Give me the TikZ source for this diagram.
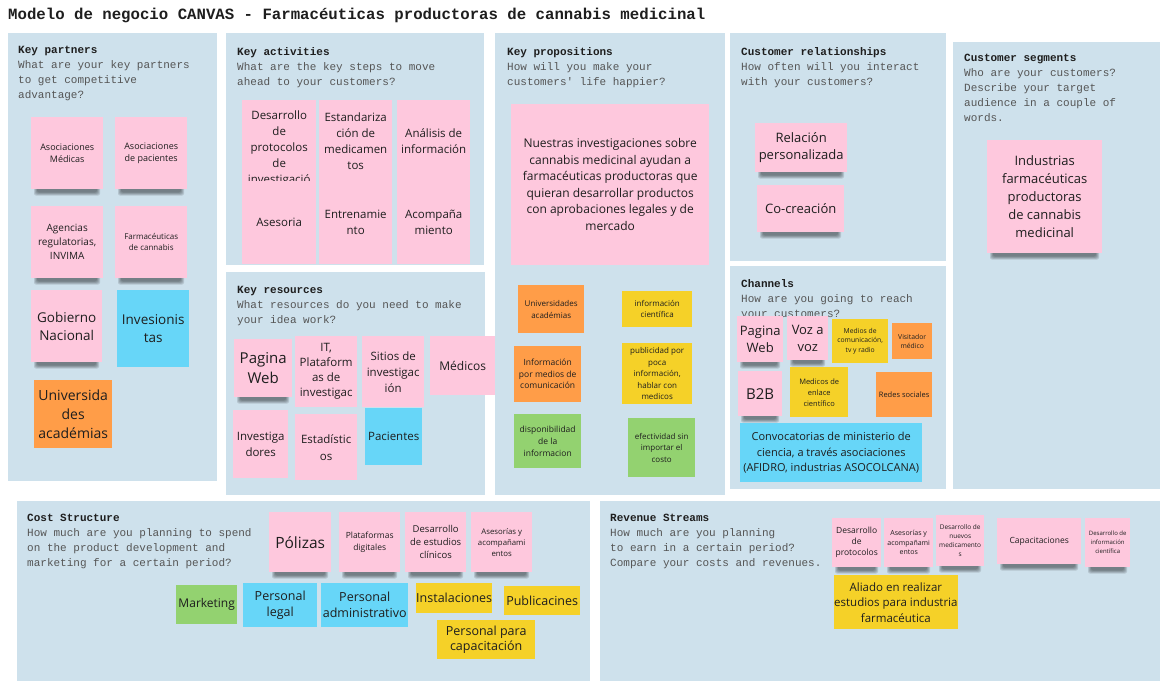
\documentclass[tikz,border=0pt]{standalone}
\usepackage{fontspec}
\setmainfont{Open Sans}
\setmonofont{Liberation Mono}
\usetikzlibrary{calc}

\definecolor{panelbg}{RGB}{206,225,236}
\definecolor{npink}{RGB}{254,200,221}
\definecolor{nblue}{RGB}{103,214,248}
\definecolor{norange}{RGB}{255,157,72}
\definecolor{nyellow}{RGB}{245,209,40}
\definecolor{ngreen}{RGB}{147,210,112}
\definecolor{ink}{RGB}{30,30,30}
\definecolor{qgray}{RGB}{85,85,85}

% font size with leading
\newcommand{\fz}[2]{\fontsize{#1}{#2}\selectfont}
% canvas panel: name, x1, y1, x2, y2
\newcommand{\cpanel}[5]{\node[panel,minimum width={#4-#2},minimum height={#5-#3}] (#1) at (#2,#3) {};}
% sticky note: name, colour, font, x1, y1, x2, y2, text
\newcommand{\stk}[8]{\node[note,fill=#2,font=#3,minimum width={#6-#4},minimum height={#7-#5}] (#1) at (#4,#5) {#8};}
% soft shadow under a lifted note: x1, x2, bottom y
\newcommand{\drop}[3]{%
  \foreach \k in {0,1,2,3}{%
    \fill[black,opacity=0.13,rounded corners=2] (#1+3+\k,#3-3) rectangle (#2-3-\k,#3+6.5-\k);}}

\begin{document}
\begin{tikzpicture}[x=1pt,y=-1pt,
  panel/.style={fill=panelbg,draw=none,inner sep=0pt,anchor=north west},
  note/.style={inner sep=0pt,align=center,text=ink,anchor=north west},
  hdr/.style={font=\ttfamily\fz{11}{15},text=qgray,align=left,anchor=north west,inner sep=0pt}]

\fill[white] (0,0) rectangle (1160,681);
\useasboundingbox (0,0) rectangle (1160,681);

\node[anchor=base west,inner sep=0pt,font=\ttfamily\bfseries\fz{15.7}{18},text=ink] (title) at (8,19)
  {Modelo de negocio CANVAS - Farmacéuticas productoras de cannabis medicinal};

% ---------- panels ----------
\cpanel{kp}{8}{33}{217}{481}
\cpanel{ka}{226}{33}{484}{265}
\cpanel{kr}{226}{272}{485}{495}
\cpanel{vp}{495}{33}{725}{495}
\cpanel{cr}{730}{33}{946}{261}
\cpanel{ch}{730}{266}{946}{489}
\cpanel{cs}{953}{42}{1160}{489}
\cpanel{cost}{17}{501}{590}{681}
\cpanel{rev}{600}{501}{1160}{681}

% ---------- panel headings ----------
\node[hdr] (kpH) at (18,46) {\textcolor{ink}{\bfseries Key partners}\\What are your key partners\\to get competitive\\advantage?};
\node[hdr] (kaH) at (237,47) {\textcolor{ink}{\bfseries Key activities}\\What are the key steps to move\\ahead to your customers?};
\node[hdr] (krH) at (237,286) {\textcolor{ink}{\bfseries Key resources}\\What resources do you need to make\\your idea work?};
\node[hdr] (vpH) at (507,47) {\textcolor{ink}{\bfseries Key propositions}\\How will you make your\\customers' life happier?};
\node[hdr] (crH) at (741,47) {\textcolor{ink}{\bfseries Customer relationships}\\How often will you interact\\with your customers?};
\node[hdr] (chH) at (741,279) {\textcolor{ink}{\bfseries Channels}\\How are you going to reach\\your customers?};
\node[hdr] (csH) at (964,54) {\textcolor{ink}{\bfseries Customer segments}\\Who are your customers?\\Describe your target\\audience in a couple of\\words.};
\node[hdr] (costH) at (27,514) {\textcolor{ink}{\bfseries Cost Structure}\\How much are you planning to spend\\on the product development and\\marketing for a certain period?};
\node[hdr] (revH) at (610,514) {\textcolor{ink}{\bfseries Revenue Streams}\\How much are you planning\\to earn in a certain period?\\Compare your costs and revenues.};

% ---------- key partners ----------
\drop{31}{103}{189}
\stk{kpA}{npink}{\fz{9}{12.5}}{31}{117}{103}{189}{Asociaciones\\Médicas}
\drop{115}{187}{189}
\stk{kpB}{npink}{\fz{9}{12.5}}{115}{117}{187}{189}{Asociaciones\\de pacientes}
\drop{31}{103}{278}
\stk{kpC}{npink}{\fz{10}{14}}{31}{206}{103}{278}{Agencias\\regulatorias,\\INVIMA}
\drop{115}{187}{278}
\stk{kpD}{npink}{\fz{8}{11}}{115}{206}{187}{278}{Farmacéuticas\\de cannabis}
\drop{31}{102}{362}
\stk{kpE}{npink}{\fz{13.5}{18}}{31}{290}{102}{362}{Gobierno\\Nacional}
\stk{kpF}{nblue}{\fz{13.5}{18}}{117}{290}{189}{367}{Invesionis\\tas}
\stk{kpG}{norange}{\fz{14}{19}}{34}{380}{112}{448}{Universida\\des\\académias}

% ---------- key activities ----------
\stk{ka1}{npink}{\fz{11.5}{16}}{242}{100}{316}{181}{\rule{0pt}{19pt}Desarrollo\\de\\protocolos\\de\\investigació}
\stk{ka2}{npink}{\fz{11.5}{16}}{319}{100}{392}{181}{Estandariza\\ción de\\medicamen\\tos}
\stk{ka3}{npink}{\fz{11.5}{16}}{397}{100}{470}{181}{Análisis de\\información}
\stk{ka4}{npink}{\fz{11.5}{16}}{242}{181}{316}{264}{Asesoria}
\stk{ka5}{npink}{\fz{11.5}{16}}{319}{181}{392}{264}{Entrenamie\\nto}
\stk{ka6}{npink}{\fz{11.5}{16}}{397}{181}{470}{264}{Acompaña\\miento}

% ---------- key resources ----------
\drop{234}{292}{397}
\stk{kr1}{npink}{\fz{15}{20}}{234}{339}{292}{397}{Pagina\\Web}
\stk{kr2}{npink}{\fz{11.5}{15}}{295}{336}{357}{407}{IT,\\Plataform\\as de\\investigac}
\stk{kr3}{npink}{\fz{11.5}{16}}{362}{336}{424}{407}{Sitios de\\investigac\\ión}
\stk{kr4}{npink}{\fz{12}{16}}{430}{336}{495}{395}{Médicos}
\stk{kr5}{npink}{\fz{11.5}{16}}{233}{410}{288}{478}{Investiga\\dores}
\stk{kr6}{npink}{\fz{11.5}{17}}{295}{414}{357}{480}{Estadístic\\os}
\stk{kr7}{nblue}{\fz{11.5}{16}}{365}{408}{422}{465}{Pacientes}

% ---------- value propositions ----------
\stk{vp1}{npink}{\fz{12}{16.5}}{511}{104}{709}{265}{Nuestras investigaciones sobre\\cannabis medicinal ayudan a\\farmacéuticas productoras que\\quieran desarrollar productos\\con aprobaciones legales y de\\mercado}
\stk{vp2}{norange}{\fz{8}{12}}{518}{285}{584}{333}{Universidades\\académias}
\stk{vp3}{nyellow}{\fz{8}{11.5}}{622}{291}{692}{327}{información\\científica}
\stk{vp4}{norange}{\fz{8.5}{11.5}}{514}{346}{581}{402}{Información\\por medios de\\comunicación}
\stk{vp5}{nyellow}{\fz{8}{11.5}}{622}{343}{692}{404}{publicidad por\\poca\\información,\\hablar con\\medicos}
\stk{vp6}{ngreen}{\fz{8.5}{12}}{514}{414}{581}{468}{disponibilidad\\de la\\informacion}
\stk{vp7}{ngreen}{\fz{8}{11.5}}{628}{418}{695}{477}{efectividad sin\\importar el\\costo}

% ---------- customer relationships ----------
\drop{755}{847}{172}
\stk{cr1}{npink}{\fz{13}{17}}{755}{123}{847}{172}{Relación\\personalizada}
\drop{757}{844}{232}
\stk{cr2}{npink}{\fz{13}{17}}{757}{185}{844}{232}{Co-creación}

% ---------- channels ----------
\drop{737}{783}{362}
\stk{ch1}{npink}{\fz{13}{16.5}}{737}{316}{783}{362}{Pagina\\Web}
\drop{787}{828}{360}
\stk{ch2}{npink}{\fz{13}{17}}{787}{316}{828}{360}{Voz a\\voz}
\stk{ch3}{nyellow}{\fz{6.8}{9.5}}{832}{319}{888}{363}{Medios de\\comunicación,\\tv y radio}
\stk{ch4}{norange}{\fz{6.8}{9.5}}{892}{323}{932}{359}{Visitador\\médico}
\drop{738}{782}{416}
\stk{ch5}{npink}{\fz{15}{18}}{738}{371}{782}{416}{B2B}
\stk{ch6}{nyellow}{\fz{7.5}{11}}{790}{367}{848}{417}{Medicos de\\enlace\\científico}
\stk{ch7}{norange}{\fz{7.5}{10}}{876}{372}{932}{417}{Redes sociales}
\stk{ch8}{nblue}{\fz{11}{15.5}}{740}{423}{922}{482}{Convocatorias de ministerio de\\ciencia, a través asociaciones\\(AFIDRO, industrias ASOCOLCANA)}

% ---------- customer segments ----------
\drop{987}{1102}{253}
\stk{cs1}{npink}{\fz{13}{18}}{987}{140}{1102}{253}{Industrias\\farmacéuticas\\productoras\\de cannabis\\medicinal}

% ---------- cost structure ----------
\drop{269}{331}{572}
\stk{co1}{npink}{\fz{15.5}{19}}{269}{512}{331}{572}{Pólizas}
\drop{339}{400}{572}
\stk{co2}{npink}{\fz{8.5}{12}}{339}{512}{400}{572}{Plataformas\\digitales}
\drop{405}{466}{572}
\stk{co3}{npink}{\fz{9.5}{13}}{405}{512}{466}{572}{Desarrollo\\de estudios\\clínicos}
\drop{471}{532}{572}
\stk{co4}{npink}{\fz{7.8}{11}}{471}{512}{532}{572}{Asesorías y\\acompañami\\entos}
\stk{co5}{ngreen}{\fz{12}{15}}{176}{585}{237}{624}{Marketing}
\stk{co6}{nblue}{\fz{12.5}{16}}{243}{583}{317}{627}{Personal\\legal}
\stk{co7}{nblue}{\fz{12.5}{16}}{321}{583}{408}{627}{Personal\\administrativo}
\stk{co8}{nyellow}{\fz{12.5}{15}}{416}{583}{492}{613}{Instalaciones}
\stk{co9}{nyellow}{\fz{12.5}{15}}{504}{586}{580}{615}{Publicacines}
\stk{co10}{nyellow}{\fz{12.5}{15.5}}{437}{620}{535}{659}{Personal para\\capacitación}

% ---------- revenue streams ----------
\drop{832}{881}{567}
\stk{rv1}{npink}{\fz{8.5}{11}}{832}{518}{881}{567}{Desarrollo\\de\\protocolos}
\drop{884}{933}{567}
\stk{rv2}{npink}{\fz{7}{9.5}}{884}{518}{933}{567}{Asesorías y\\acompañami\\entos}
\drop{936}{984}{566}
\stk{rv3}{npink}{\fz{6.5}{9}}{936}{515}{984}{566}{Desarrollo de\\nuevos\\medicamento\\s}
\drop{997}{1081}{564}
\stk{rv4}{npink}{\fz{8.5}{11}}{997}{518}{1081}{564}{Capacitaciones}
\drop{1085}{1130}{567}
\stk{rv5}{npink}{\fz{6}{9}}{1085}{518}{1130}{567}{Desarrollo de\\información\\científica}
\stk{rv6}{nyellow}{\fz{11.5}{15.5}}{834}{575}{957}{629}{Aliado en realizar\\estudios para industria\\farmacéutica}

\end{tikzpicture}
\end{document}
